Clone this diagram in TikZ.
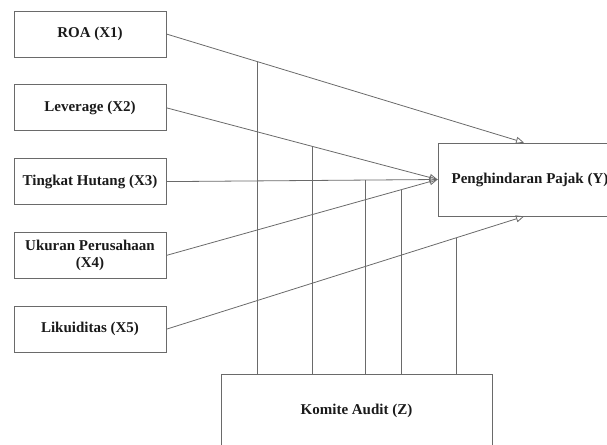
\documentclass[tikz,border=0pt]{standalone}
\usepackage{fontspec}
\setmainfont{Liberation Serif}
\usepackage{xcolor}
\usetikzlibrary{arrows.meta,positioning}
\definecolor{wire}{HTML}{6A6A6A}
\definecolor{ink}{HTML}{1A1A1A}

\begin{document}
\begin{tikzpicture}[
  x=1pt,y=-1pt,
  node distance=27pt,
  var/.style={draw=wire,line width=0.8pt,text=ink,font=\bfseries\fontsize{15}{17}\selectfont,align=center,minimum width=152pt,minimum height=46pt,inner sep=2pt},
  arr/.style={-{Triangle[open,length=8pt,width=7pt]},line width=0.8pt,color=wire},
  mod/.style={line width=0.8pt,color=wire}
]
\useasboundingbox (0,0) rectangle (607,444);
\node[var] (roa) at (90,34) {ROA (X1)};
\node[var,below=of roa] (lev) {Leverage (X2)};
\node[var,below=of lev] (hut) {Tingkat Hutang (X3)};
\node[var,below=of hut] (uku) {Ukuran Perusahaan\\(X4)};
\node[var,below=of uku] (lik) {Likuiditas (X5)};
\node[var,minimum width=184pt,minimum height=73pt] (pp) at (530,179.5) {Penghindaran Pajak (Y)};
\node[var,minimum width=271pt,minimum height=74pt] (ka) at (356.5,411) {Komite Audit (Z)};
% direct effects
\draw[arr] (roa.east) -- coordinate[pos=0.2545] (m1) ([xshift=-6pt]pp.north);
\draw[arr] (lev.east) -- coordinate[pos=0.537] (m2) (pp.west);
\draw[arr] (hut.east) -- coordinate[pos=0.735] (m3) (pp.west);
\draw[arr] (uku.east) -- coordinate[pos=0.868] (m4) (pp.west);
\draw[arr] (lik.east) -- coordinate[pos=0.811] (m5) ([xshift=-6pt]pp.south);
% moderation
\draw[mod] (ka.north -| m1) -- (m1);
\draw[mod] (ka.north -| m2) -- (m2);
\draw[mod] (ka.north -| m3) -- (m3);
\draw[mod] (ka.north -| m4) -- (m4);
\draw[mod] (ka.north -| m5) -- (m5);
\end{tikzpicture}
\end{document}
